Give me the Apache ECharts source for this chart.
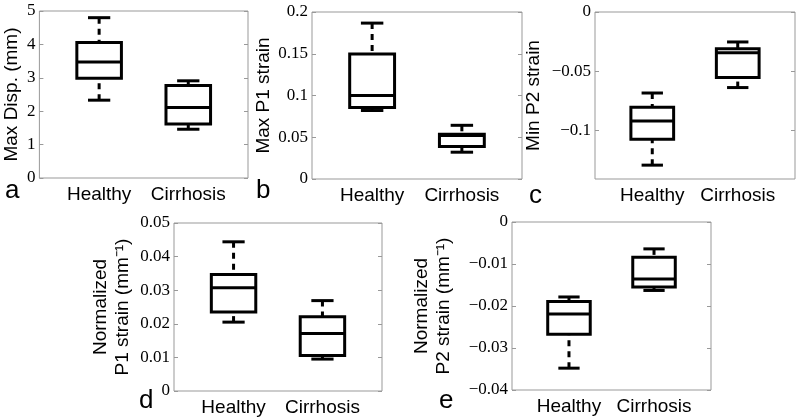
<!DOCTYPE html>
<html lang="en">
<head>
<meta charset="UTF-8">
<title>Boxplots - liver strain</title>
<style>
  html, body { margin: 0; padding: 0; background: #fff; }
  #main { width: 800px; height: 419px; }
</style>
</head>
<body>
<div id="main"></div>
<script src="https://cdn.jsdelivr.net/npm/echarts@6/dist/echarts.min.js"></script>
<script>
// groups on the x axis (placed at x = 1 and x = 2)
var groups = ['Healthy', 'Cirrhosis'];

// box stats per group: [lower whisker, Q1, median, Q3, upper whisker]
var maxDisp = [[2.33, 2.99, 3.47, 4.06, 4.80], [1.46, 1.62, 2.11, 2.77, 2.91]];
var maxP1 = [[0.082, 0.0855, 0.100, 0.1498, 0.1867], [0.0321, 0.039, 0.052, 0.0535, 0.0643]];
var minP2 = [[-0.1293, -0.1075, -0.092, -0.0805, -0.0684], [-0.0638, -0.0552, -0.0345, -0.031, -0.0253]];
var normP1 = [[0.0205, 0.0235, 0.0307, 0.0347, 0.0444], [0.0095, 0.0106, 0.0171, 0.0221, 0.0269]];
var normP2 = [[-0.0348, -0.0267, -0.0219, -0.0189, -0.01785], [-0.0163, -0.0155, -0.01355, -0.0084, -0.0064]];

// y tick labels per panel
var ticksA = [0, 1, 2, 3, 4, 5];
var ticksB = [0, 0.05, 0.1, 0.15, 0.2];
var ticksC = [-0.1, -0.05, 0];
var ticksD = [0, 0.01, 0.02, 0.03, 0.04, 0.05];
var ticksE = [-0.04, -0.03, -0.02, -0.01, 0];

var SANS = '"Liberation Sans", Arial, sans-serif';
var SERIF = '"Liberation Serif", "Times New Roman", serif';

var panels = [
    { letter: 'a', data: maxDisp, ticks: ticksA, min: 0, max: 5, name: 'Max Disp. (mm)',
      grid: { left: 37, top: 11, width: 211, height: 167 }, nameGap: 16, lx: 5, ly: 204 },
    { letter: 'b', data: maxP1, ticks: ticksB, min: 0, max: 0.2, name: 'Max P1 strain',
      grid: { left: 312, top: 12, width: 210, height: 167 }, nameGap: 37, lx: 256, ly: 204 },
    { letter: 'c', data: minP2, ticks: ticksC, min: -0.141, max: 0, name: 'Min P2 strain',
      grid: { left: 595, top: 12, width: 200, height: 167 }, nameGap: 50, lx: 529, ly: 209 },
    { letter: 'd', data: normP1, ticks: ticksD, min: 0, max: 0.05, name: 'Normalized\nP1 strain (mm\u207B\u00B9)',
      grid: { left: 174, top: 223, width: 208, height: 168 }, nameGap: 40, lx: 139, ly: 414 },
    { letter: 'e', data: normP2, ticks: ticksE, min: -0.04, max: 0, name: 'Normalized\nP2 strain (mm\u207B\u00B9)',
      grid: { left: 512, top: 222, width: 199, height: 168 }, nameGap: 57, lx: 439, ly: 414 }
];

// MATLAB style numbers: real minus sign, no trailing float noise
function fmtTick(v) {
    var s = String(parseFloat(Math.abs(v).toFixed(4)));
    return v < 0 ? '\u2212' + s : s;
}

// box with dashed whiskers and short caps
function renderBox(params, api) {
    var x = api.value(0);
    var lo = api.value(1), q1 = api.value(2), md = api.value(3), q3 = api.value(4), hi = api.value(5);
    var tl = api.coord([x - 0.25, q3]);
    var br = api.coord([x + 0.25, q1]);
    var mL = api.coord([x - 0.25, md]), mR = api.coord([x + 0.25, md]);
    var pHi = api.coord([x, hi]), pQ3 = api.coord([x, q3]);
    var pLo = api.coord([x, lo]), pQ1 = api.coord([x, q1]);
    var cHiL = api.coord([x - 0.125, hi]), cHiR = api.coord([x + 0.125, hi]);
    var cLoL = api.coord([x - 0.125, lo]), cLoR = api.coord([x + 0.125, lo]);
    var solid = { stroke: '#000', lineWidth: 3, fill: null };
    var dashed = { stroke: '#000', lineWidth: 3, lineDash: [6, 5], fill: null };
    return {
        type: 'group',
        children: [
            { type: 'line', shape: { x1: pHi[0], y1: pHi[1], x2: pQ3[0], y2: pQ3[1] }, style: dashed },
            { type: 'line', shape: { x1: pLo[0], y1: pLo[1], x2: pQ1[0], y2: pQ1[1] }, style: dashed },
            { type: 'line', shape: { x1: cHiL[0], y1: cHiL[1], x2: cHiR[0], y2: cHiR[1] }, style: solid },
            { type: 'line', shape: { x1: cLoL[0], y1: cLoL[1], x2: cLoR[0], y2: cLoR[1] }, style: solid },
            { type: 'rect', shape: { x: tl[0], y: tl[1], width: br[0] - tl[0], height: br[1] - tl[1] }, style: solid },
            { type: 'line', shape: { x1: mL[0], y1: mL[1], x2: mR[0], y2: mR[1] }, style: solid }
        ]
    };
}

var option = { animation: false, grid: [], xAxis: [], yAxis: [], series: [], graphic: [] };

panels.forEach(function (p, i) {
    option.grid.push(Object.assign({ show: true, borderColor: '#999', borderWidth: 1, backgroundColor: 'transparent' }, p.grid));
    option.xAxis.push({
        type: 'value', gridIndex: i, min: 0.33, max: 2.67,
        axisLine: { show: false }, splitLine: { show: false }, axisTick: { show: false },
        axisLabel: {
            customValues: [1, 2],
            formatter: function (v) { return groups[Math.round(v) - 1]; },
            fontFamily: SANS, fontSize: 19, color: '#000', margin: 7
        }
    });
    option.yAxis.push({
        type: 'value', gridIndex: i, min: p.min, max: p.max,
        name: p.name, nameLocation: 'middle', nameGap: p.nameGap,
        nameTextStyle: { fontFamily: SANS, fontSize: 19, color: '#000', lineHeight: 22 },
        axisLine: { show: false }, splitLine: { show: false },
        axisTick: { show: true, inside: true, length: 4, customValues: p.ticks, lineStyle: { color: '#999' } },
        axisLabel: { customValues: p.ticks, formatter: fmtTick, fontFamily: SERIF, fontSize: 17, color: '#000', margin: 4 }
    });
    // right side ticks only
    option.yAxis.push({
        type: 'value', gridIndex: i, min: p.min, max: p.max, position: 'right',
        axisLine: { show: false }, splitLine: { show: false }, axisLabel: { show: false },
        axisTick: { show: true, inside: true, length: 4, customValues: p.ticks, lineStyle: { color: '#999' } }
    });
    option.series.push({
        type: 'custom', xAxisIndex: i, yAxisIndex: 2 * i,
        renderItem: renderBox,
        encode: { x: 0, y: [1, 2, 3, 4, 5] },
        data: p.data.map(function (d, k) { return [k + 1].concat(d); })
    });
    option.graphic.push({
        type: 'text', x: p.lx, y: p.ly,
        style: { text: p.letter, font: '26px ' + SANS, fill: '#000', verticalAlign: 'bottom' }
    });
});

var chart = echarts.init(document.getElementById('main'));
chart.setOption(option);
</script>
</body>
</html>
